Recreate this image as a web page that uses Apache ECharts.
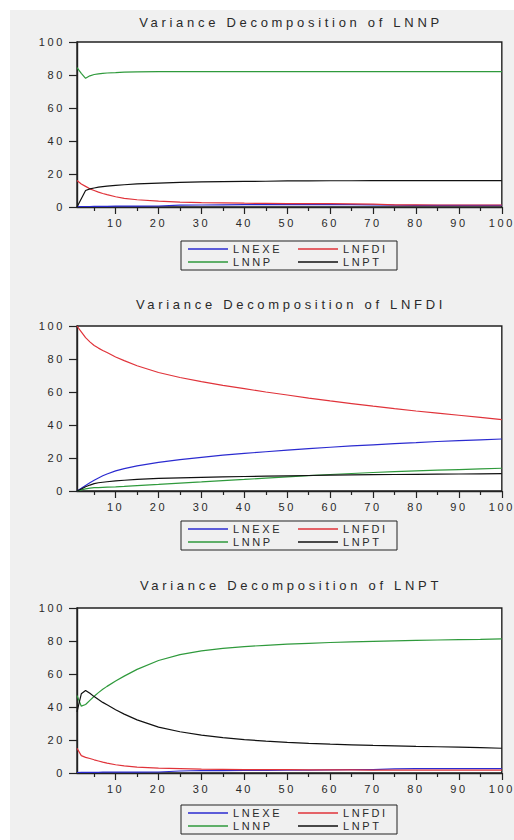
<!DOCTYPE html>
<html>
<head>
<meta charset="utf-8">
<script src="https://cdn.jsdelivr.net/npm/echarts@6/dist/echarts.min.js"></script>
<style>
html,body{margin:0;padding:0;background:#fff;width:514px;height:840px;overflow:hidden;}
#bg{position:absolute;left:10px;top:10px;width:504px;height:830px;background:#f0f0f0;}
#chart{position:absolute;left:0;top:0;width:514px;height:840px;}
#chart text{letter-spacing:2.6px;}
#chart text[style*="13px"]{letter-spacing:3.7px;}
</style>
</head>
<body>
<div id="bg"></div>
<div id="chart"></div>
<script>
const periods = [1,2,3,4,5,6,7,8,10,12,15,20,25,30,35,40,45,50,55,60,65,70,75,80,85,90,95,100];

// Variance Decomposition of LNNP
const nnpExe = [0.2,0.3,0.3,0.3,0.4,0.4,0.4,0.4,0.5,0.5,0.5,0.6,1.1,1.2,1.3,1.4,1.4,1.4,1.4,1.4,1.4,1.3,1.1,1.0,1.0,1.0,1.0,1.0];
const nnpFdi = [16,14,12.5,11,10,9,8.2,7.5,6.2,5.2,4.4,3.6,3.0,2.7,2.5,2.3,2.2,2.1,2.0,2.0,1.9,1.8,1.3,1.3,1.2,1.2,1.2,1.2];
const nnpNnp = [84.5,81,78,79.5,80.3,80.7,81,81.2,81.4,81.7,81.9,82,82,82,82,82,82,82,82,82,82,82,82,82,82,82,82,82];
const nnpPt  = [0,5,10,11,11.5,12,12.3,12.6,13.1,13.5,14,14.5,14.9,15.2,15.4,15.5,15.6,15.8,15.8,15.9,15.9,16,16,16,16,16,16,16];

// Variance Decomposition of LNFDI
const fdiExe = [0,1.6,3.4,5.0,6.5,7.9,9.2,10.3,12.2,13.6,15.2,17.3,19,20.4,21.7,22.8,23.8,24.8,25.7,26.5,27.3,28,28.7,29.3,30,30.5,31,31.5];
const fdiFdi = [100,96.5,93,90.4,88.2,86.6,85.2,83.9,81.2,79.0,75.9,71.8,68.8,66.3,64,62,60,58.2,56.3,54.6,53,51.4,49.9,48.5,47.2,45.9,44.6,43.3];
const fdiNnp = [0,0.7,1.3,1.7,2.0,2.1,2.2,2.3,2.5,2.8,3.3,4.0,4.8,5.5,6.3,7.0,7.8,8.6,9.3,10,10.6,11.2,11.7,12.2,12.6,13,13.4,13.8];
const fdiPt  = [0,1.2,2.6,3.6,4.5,5.0,5.3,5.6,6.1,6.5,7.0,7.6,8.0,8.3,8.6,8.8,9.0,9.2,9.4,9.6,9.8,9.9,10.0,10.1,10.2,10.3,10.4,10.5];

// Variance Decomposition of LNPT
const ptExe = [0.3,0.4,0.4,0.4,0.4,0.4,0.5,0.5,0.5,0.5,0.5,0.6,1.2,1.5,1.5,1.6,1.6,1.7,1.8,1.9,2.0,2.0,2.5,2.6,2.6,2.6,2.7,2.7];
const ptFdi = [15,10.5,9.5,8.8,8,7.3,6.6,6.0,5.0,4.3,3.6,2.9,2.6,2.3,2.2,2.1,2.0,2.0,1.9,1.9,1.9,1.8,1.8,1.8,1.8,1.8,1.8,1.8];
const ptNnp = [47,40.5,41.5,44,46.5,48.7,50.7,52.5,55.8,58.7,62.8,68.2,71.7,74,75.5,76.6,77.4,78.1,78.6,79.1,79.5,79.8,80.1,80.4,80.6,80.8,81,81.3];
const ptPt  = [37,48,50,48.3,46.3,44.5,42.8,41.3,38.3,35.7,32.2,27.8,25,22.9,21.4,20.2,19.3,18.6,18,17.5,17.1,16.7,16.4,16.1,15.9,15.7,15.4,15];

const titles = ['Variance Decomposition of LNNP','Variance Decomposition of LNFDI','Variance Decomposition of LNPT'];
const seriesNames = ['LNEXE','LNFDI','LNNP','LNPT'];
const xLabelValues = [10,20,30,40,50,60,70,80,90,100];
const xMinorTicks = [5,15,25,35,45,55,65,75,85,95];
const chartData = [
  [nnpExe, nnpFdi, nnpNnp, nnpPt],
  [fdiExe, fdiFdi, fdiNnp, fdiPt],
  [ptExe, ptFdi, ptNnp, ptPt]
];

const colors = ['#2b2bd0','#e0333a','#2f9a3c','#111111'];
const FONT = 'Liberation Sans, Arial, sans-serif';
const TXT = '#2a2a2a';
const gridTops = [42, 326, 608];
const titleYs = [22, 304, 585];
const legendTops = [241, 521, 805];

const grids = [], xAxes = [], yAxes = [], series = [], titleOpts = [], legends = [];
gridTops.forEach((top, g) => {
  grids.push({left:77, top:top, width:428, height:165, show:true, backgroundColor:'#ffffff', borderColor:'#222', borderWidth:1.4});
  xAxes.push({
    gridIndex:g, type:'value', min:1, max:100, position:'bottom',
    axisLine:{show:true, onZero:false, lineStyle:{color:'#222', width:1.4}},
    axisTick:{show:true, customValues:xLabelValues, length:7, lineStyle:{color:'#222', width:1.2}},
    axisLabel:{show:true, customValues:xLabelValues, margin:10, fontSize:11, color:TXT, fontFamily:FONT},
    splitLine:{show:false}
  });
  xAxes.push({
    gridIndex:g, type:'value', min:1, max:100, position:'bottom',
    axisLine:{show:false},
    axisTick:{show:true, customValues:xMinorTicks, length:4, lineStyle:{color:'#222', width:1.2}},
    axisLabel:{show:false},
    splitLine:{show:false}
  });
  yAxes.push({
    gridIndex:g, type:'value', min:0, max:100, interval:20,
    axisLine:{show:true, lineStyle:{color:'#222', width:1.4}},
    axisTick:{show:true, length:8, lineStyle:{color:'#222', width:1.2}},
    axisLabel:{margin:12, fontSize:11, color:TXT, fontFamily:FONT},
    splitLine:{show:false}
  });
  titleOpts.push({
    text:titles[g], left:291, top:titleYs[g], padding:0,
    textAlign:'center', textVerticalAlign:'middle',
    textStyle:{fontSize:13, fontWeight:'normal', color:TXT, fontFamily:FONT}
  });
  legends.push({
    data:seriesNames, left:181, top:legendTops[g], width:205,
    orient:'horizontal', padding:[2,9,2,7], itemGap:1,
    borderColor:'#222', borderWidth:1,
    icon:'rect', itemWidth:40, itemHeight:1.3,
    formatter: function(name){ return (name === 'LNEXE' || name === 'LNNP') ? '{a|' + name + '}' : '{b|' + name + '}'; },
    textStyle:{fontSize:11, lineHeight:12, color:TXT, fontFamily:FONT,
      rich:{a:{width:64, fontSize:11, lineHeight:12, color:TXT, fontFamily:FONT}, b:{width:45, fontSize:11, lineHeight:12, color:TXT, fontFamily:FONT}}}
  });
  chartData[g].forEach((vals, s) => {
    series.push({
      name:seriesNames[s], type:'line', xAxisIndex:g*2, yAxisIndex:g,
      data: periods.map((p, i) => [p, vals[i]]),
      symbol:'none', showSymbol:false, smooth:false,
      lineStyle:{color:colors[s], width:1.2}, itemStyle:{color:colors[s]},
      emphasis:{disabled:true}
    });
  });
});

const chart = echarts.init(document.getElementById('chart'), null, {renderer:'svg'});
chart.setOption({
  animation:false,
  color:colors,
  title:titleOpts,
  legend:legends,
  grid:grids,
  xAxis:xAxes,
  yAxis:yAxes,
  series:series
});
</script>
</body>
</html>
